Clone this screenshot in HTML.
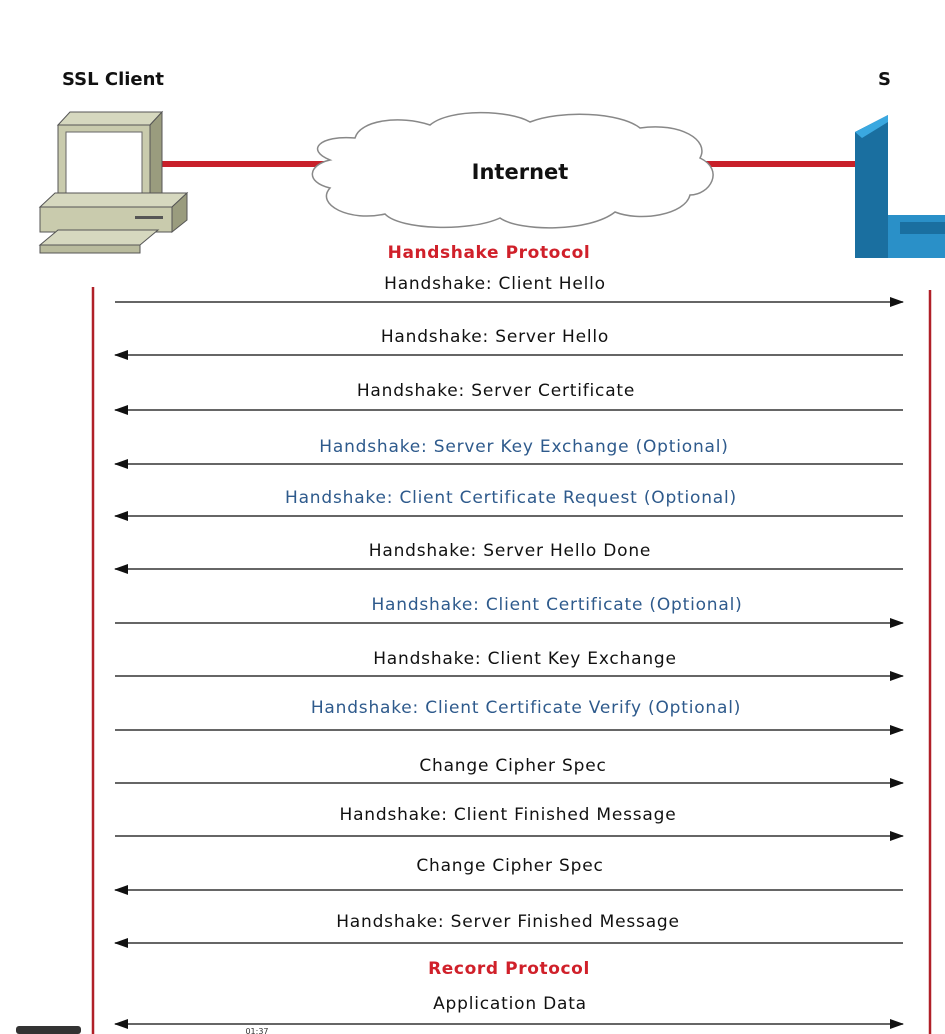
<!DOCTYPE html>
<html><head><style>body{margin:0;background:#fff}svg{display:block}</style></head><body>
<svg width="945" height="1034" xmlns="http://www.w3.org/2000/svg" font-family="DejaVu Sans, sans-serif">
<defs>
<marker id="a" markerWidth="14" markerHeight="10" refX="13" refY="5" orient="auto" markerUnits="userSpaceOnUse"><path d="M0,0 L14,5 L0,10 Z" fill="#111"/></marker>
<marker id="b" markerWidth="14" markerHeight="10" refX="1" refY="5" orient="auto" markerUnits="userSpaceOnUse"><path d="M14,0 L0,5 L14,10 Z" fill="#111"/></marker>
</defs>
<text x="62" y="85" font-size="18" font-weight="bold" fill="#111">SSL Client</text>
<text x="878" y="85" font-size="18" font-weight="bold" fill="#111">S</text>
<line x1="160" y1="164" x2="330" y2="164" stroke="#c8202a" stroke-width="6"/>
<line x1="705" y1="164" x2="860" y2="164" stroke="#c8202a" stroke-width="6"/>
<!-- computer -->
<polygon points="58,125 70,112 162,112 150,125" fill="#d6d8bf" stroke="#555"/>
<polygon points="150,125 162,112 162,195 150,205" fill="#9a9c7e" stroke="#555"/>
<rect x="58" y="125" width="92" height="80" fill="#c9cbad" stroke="#555"/>
<rect x="66" y="132" width="76" height="64" fill="#fff" stroke="#666"/>
<polygon points="40,207 55,193 187,193 172,207" fill="#d6d8bf" stroke="#555"/>
<polygon points="172,207 187,193 187,220 172,232" fill="#9a9c7e" stroke="#555"/>
<rect x="40" y="207" width="132" height="25" fill="#c9cbad" stroke="#555"/>
<rect x="135" y="216" width="28" height="3" fill="#555"/>
<polygon points="40,245 58,230 158,230 140,245" fill="#d6d8bf" stroke="#555"/>
<rect x="40" y="245" width="100" height="8" fill="#b9bb9d" stroke="#555"/>
<!-- server -->
<polygon points="855,132 888,115 945,115 945,258 855,258" fill="#1a6fa0"/>
<polygon points="855,132 888,115 888,122 862,138" fill="#3aa8e0"/>
<rect x="888" y="115" width="57" height="100" fill="#fff"/>
<rect x="888" y="215" width="57" height="43" fill="#2a90c8"/>
<rect x="900" y="222" width="45" height="12" fill="#1a6fa0"/>
<!-- cloud -->
<path d="M330,160 C305,150 320,135 355,138 C360,120 400,115 430,125 C450,108 510,110 530,122 C560,110 620,112 640,128 C680,122 710,140 700,158 C725,170 710,195 690,195 C685,215 640,222 615,212 C590,232 520,232 500,218 C470,232 400,230 385,214 C350,222 315,205 330,188 C305,182 308,165 330,160 Z" fill="#fff" stroke="#888" stroke-width="1.5"/>
<text x="520" y="179" font-size="21" font-weight="bold" text-anchor="middle" fill="#111">Internet</text>
<text x="489" y="258" font-size="17" font-weight="bold" letter-spacing="0.6" text-anchor="middle" fill="#d0202a">Handshake Protocol</text>
<text x="509" y="974" font-size="17" font-weight="bold" letter-spacing="0.6" text-anchor="middle" fill="#d0202a">Record Protocol</text>
<line x1="93" y1="287" x2="93" y2="1034" stroke="#b02028" stroke-width="2.5"/>
<line x1="930" y1="290" x2="930" y2="1034" stroke="#b02028" stroke-width="2.5"/>
<g stroke="#333" stroke-width="1.5">
<line x1="115" y1="302" x2="903" y2="302" marker-end="url(#a)"/>
<line x1="115" y1="355" x2="903" y2="355" marker-start="url(#b)"/>
<line x1="115" y1="410" x2="903" y2="410" marker-start="url(#b)"/>
<line x1="115" y1="464" x2="903" y2="464" marker-start="url(#b)"/>
<line x1="115" y1="516" x2="903" y2="516" marker-start="url(#b)"/>
<line x1="115" y1="569" x2="903" y2="569" marker-start="url(#b)"/>
<line x1="115" y1="623" x2="903" y2="623" marker-end="url(#a)"/>
<line x1="115" y1="676" x2="903" y2="676" marker-end="url(#a)"/>
<line x1="115" y1="730" x2="903" y2="730" marker-end="url(#a)"/>
<line x1="115" y1="783" x2="903" y2="783" marker-end="url(#a)"/>
<line x1="115" y1="836" x2="903" y2="836" marker-end="url(#a)"/>
<line x1="115" y1="890" x2="903" y2="890" marker-start="url(#b)"/>
<line x1="115" y1="943" x2="903" y2="943" marker-start="url(#b)"/>
<line x1="115" y1="1024" x2="903" y2="1024" marker-start="url(#b)" marker-end="url(#a)"/>
</g>
<g font-size="17" letter-spacing="0.8" text-anchor="middle" fill="#111">
<text x="495" y="289">Handshake: Client Hello</text>
<text x="495" y="342">Handshake: Server Hello</text>
<text x="496" y="396">Handshake: Server Certificate</text>
<text x="524" y="452" fill="#2e5a8c">Handshake: Server Key Exchange (Optional)</text>
<text x="511" y="503" fill="#2e5a8c">Handshake: Client Certificate Request (Optional)</text>
<text x="510" y="556">Handshake: Server Hello Done</text>
<text x="557" y="610" fill="#2e5a8c">Handshake: Client Certificate (Optional)</text>
<text x="525" y="664">Handshake: Client Key Exchange</text>
<text x="526" y="713" fill="#2e5a8c">Handshake: Client Certificate Verify (Optional)</text>
<text x="513" y="771">Change Cipher Spec</text>
<text x="508" y="820">Handshake: Client Finished Message</text>
<text x="510" y="871">Change Cipher Spec</text>
<text x="508" y="927">Handshake: Server Finished Message</text>
<text x="510" y="1009">Application Data</text>
</g>
<rect x="16" y="1026" width="65" height="8" rx="3" fill="#333"/>
<text x="257" y="1034" font-size="8" text-anchor="middle" fill="#333">01:37</text>
</svg>
</body></html>
